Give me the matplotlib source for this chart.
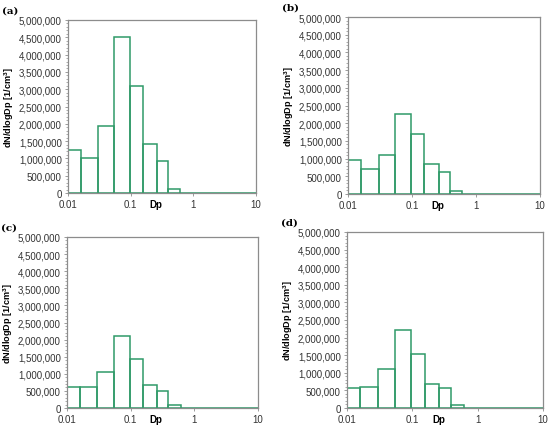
import numpy as np
import matplotlib.pyplot as plt
from matplotlib.ticker import FixedLocator, MultipleLocator, FuncFormatter
from matplotlib.transforms import blended_transform_factory

# impactor stage edges (um), first one clipped by the axis
edges = [0.0068, 0.016, 0.030, 0.055, 0.096, 0.155, 0.26, 0.39, 0.61, 1.0, 1.6, 2.5, 4.4, 10.0]

vals_a = [1250000, 1000000, 1950000, 4500000, 3100000, 1430000, 930000, 120000, 8000, 6000, 5000, 5000, 12000]
vals_b = [970000, 720000, 1100000, 2270000, 1690000, 840000, 610000, 90000, 5000, 3000, 3000, 3000, 4000]
vals_c = [600000, 600000, 1060000, 2100000, 1440000, 670000, 510000, 80000, 4000, 3000, 3000, 3000, 3000]
vals_d = [570000, 610000, 1120000, 2210000, 1520000, 690000, 560000, 80000, 4000, 3000, 3000, 3000, 3000]

panel_labels = ['(a)', '(b)', '(c)', '(d)']
xticks = [0.01, 0.1, 1, 10]
xticklabels = ['0.01', '0.1', '1', '10']

green = '#2f9a68'
grey = '#8c8c8c'
W, H = 550, 427

# axes boxes in pixels: left, right, top, bottom
boxes = [(68, 256, 21, 194), (348, 540, 18, 195), (67, 258, 238, 409), (347, 543, 233, 409)]

plt.rcParams['font.family'] = ['Liberation Sans', 'DejaVu Sans']

fig = plt.figure(figsize=(W / 100, H / 100), dpi=100)

for vals, lab, (l, r, t, b) in zip([vals_a, vals_b, vals_c, vals_d], panel_labels, boxes):
    ax = fig.add_axes([l / W, 1 - b / H, (r - l) / W, (b - t) / H])
    lefts = np.array(edges[:-1])
    widths = np.diff(edges)
    ax.bar(lefts, vals, width=widths, align='edge', fill=False,
           edgecolor=green, linewidth=1.1)
    ax.set_xscale('log')
    ax.set_xlim(0.01, 10)
    ax.set_ylim(0, 5000000)
    ax.xaxis.set_major_locator(FixedLocator(xticks))
    ax.set_xticklabels(xticklabels)
    ax.xaxis.set_minor_locator(FixedLocator([]))
    ax.yaxis.set_major_locator(MultipleLocator(500000))
    ax.yaxis.set_minor_locator(MultipleLocator(100000))
    ax.yaxis.set_major_formatter(FuncFormatter(lambda v, p: '{:,.0f}'.format(v)))
    ax.tick_params(labelsize=7, labelcolor='#333333', length=2.5, width=0.6, pad=2)
    ax.tick_params(which='minor', length=1.5, width=0.5, color=grey)
    ax.tick_params(which='major', color=grey)
    for s in ax.spines.values():
        s.set_color(grey)
        s.set_linewidth(0.9)
    ax.set_ylabel('dN/dlogDp [1/cm$^\\mathregular{3}$]', fontsize=6.6,
                  fontweight='bold', labelpad=2)
    tr = blended_transform_factory(ax.transData, ax.transAxes)
    ax.text(0.25, -0.035, 'Dp', transform=tr, ha='center', va='top',
            fontsize=7, fontweight='bold')
    fig.text((l - 66) / W, 1 - (t - 14) / H, lab, ha='left', va='top',
             fontsize=7.5, fontweight='bold', family='DejaVu Serif')

fig.savefig('out.png', dpi=100)
